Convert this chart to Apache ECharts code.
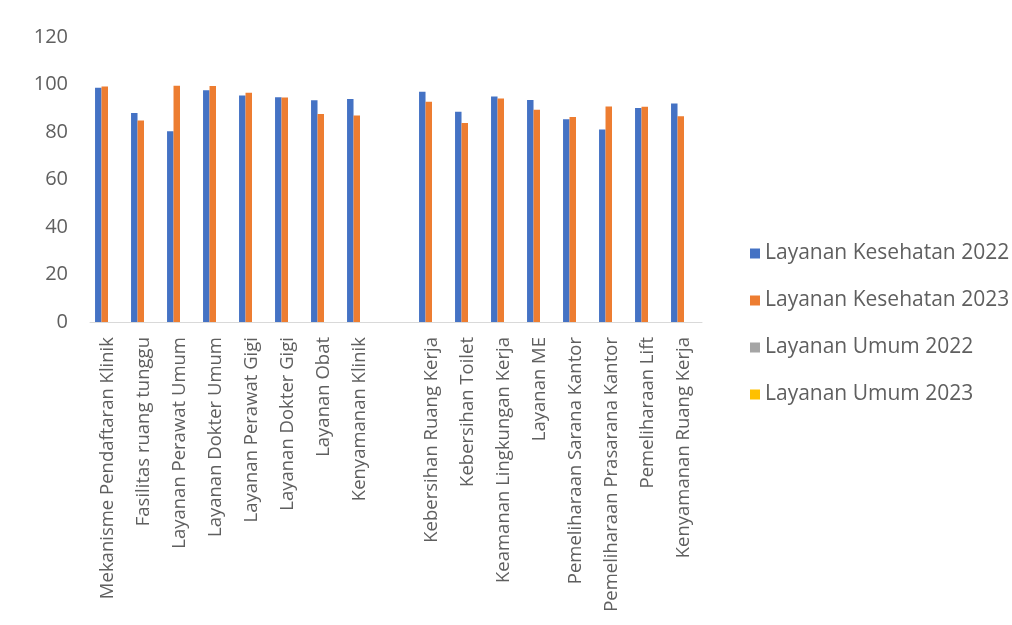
<!DOCTYPE html>
<html>
<head>
<meta charset="utf-8">
<script src="https://cdn.jsdelivr.net/npm/echarts@6/dist/echarts.min.js"></script>
<style>html,body{margin:0;padding:0;background:#fff;}#c{width:1012px;height:625px;}</style>
</head>
<body>
<div id="c"></div>
<script>
const categories = [
  'Mekanisme Pendaftaran Klinik','Fasilitas ruang tunggu','Layanan Perawat Umum','Layanan Dokter Umum',
  'Layanan Perawat Gigi','Layanan Dokter Gigi','Layanan Obat','Kenyamanan Klinik','',
  'Kebersihan Ruang Kerja','Kebersihan Toilet','Keamanan Lingkungan Kerja','Layanan ME',
  'Pemeliharaan Sarana Kantor','Pemeliharaan Prasarana Kantor','Pemeliharaan Lift','Kenyamanan Ruang Kerja'
];
const kesehatan2022 = [98.6, 88, 80.3, 97.6, 95.4, 94.6, 93.4, 93.9, '-', 97, 88.5, 95, 93.5, 85.4, 81.1, 90.1, 92];
const kesehatan2023 = [99.2, 84.8, 99.5, 99.4, 96.5, 94.5, 87.6, 86.9, '-', 92.7, 83.8, 94.1, 89.4, 86.3, 90.7, 90.6, 86.6];
const umum2022 = [];
const umum2023 = [];
const seriesNames = ['Layanan Kesehatan 2022','Layanan Kesehatan 2023','Layanan Umum 2022','Layanan Umum 2023'];
const yTicks = [0, 20, 40, 60, 80, 100, 120];

const colors = ['#4472C4','#ED7D31','#A5A5A5','#FFC000'];
const font = 'Open Sans';
const textColor = '#5f5f5f';
const chart = echarts.init(document.getElementById('c'));
const dataSets = [kesehatan2022, kesehatan2023, umum2022, umum2023];
chart.setOption({
  animation: false,
  backgroundColor: '#fff',
  color: colors,
  grid: { left: 90, right: 310, top: 37, bottom: 303 },
  legend: {
    orient: 'vertical', left: 745, top: 238,
    itemWidth: 10, itemHeight: 10, itemGap: 26,
    icon: 'rect',
    textStyle: { fontFamily: font, fontSize: 21, color: textColor },
    data: seriesNames
  },
  xAxis: {
    type: 'category', data: categories,
    axisLine: { lineStyle: { color: '#d9d9d9' } },
    axisTick: { show: false },
    axisLabel: { rotate: 90, interval: 0, margin: 15, fontFamily: font, fontSize: 18.5, color: textColor }
  },
  yAxis: {
    type: 'value', min: yTicks[0], max: yTicks[yTicks.length - 1], interval: 20,
    axisLine: { show: false }, axisTick: { show: false }, splitLine: { show: false },
    axisLabel: { fontFamily: font, fontSize: 20, color: textColor, margin: 22 }
  },
  series: seriesNames.map((n, i) => ({
    name: n, type: 'bar', data: dataSets[i],
    barGap: '0%', barCategoryGap: '28%'
  }))
});
</script>
</body>
</html>
